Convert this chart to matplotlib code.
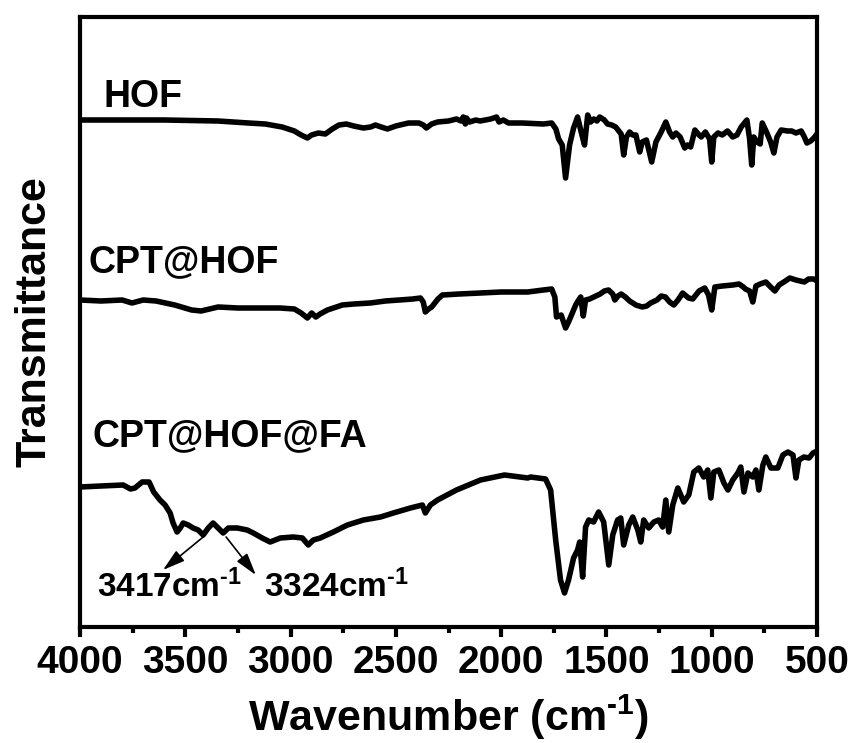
import matplotlib
matplotlib.use("Agg")
import matplotlib.pyplot as plt

plt.rcParams["mathtext.fontset"] = "custom"
plt.rcParams["mathtext.rm"] = "Liberation Sans:bold"
plt.rcParams["mathtext.bf"] = "Liberation Sans:bold"
plt.rcParams["mathtext.it"] = "Liberation Sans:bold:italic"
plt.rcParams["mathtext.default"] = "rm"

# ---- data (wavenumber cm-1, transmittance a.u.) ----
hof_wn = [4000, 3800, 3600, 3345, 3200, 3120, 3040, 2982, 2950, 2920, 2900, 2868, 2835, 2802,
          2770, 2735, 2700, 2654, 2620, 2597, 2570, 2540, 2500, 2440, 2390, 2370, 2355, 2330,
          2302, 2250, 2212, 2190, 2180, 2170, 2165, 2150, 2120, 2100, 2050, 2022, 2010, 1990,
          1965, 1900, 1800, 1760, 1740, 1727, 1710, 1694, 1675, 1656, 1637, 1620, 1604, 1589,
          1575, 1560, 1545, 1532, 1510, 1495, 1475, 1456, 1430, 1418, 1405, 1390, 1375, 1360,
          1342, 1330, 1310, 1285, 1265, 1240, 1218, 1200, 1185, 1170, 1150, 1128, 1115, 1100,
          1080, 1060, 1050, 1030, 1010, 1000, 990, 970, 950, 925, 900, 880, 860, 833, 820, 810,
          800, 785, 770, 760, 740, 720, 705, 690, 670, 640, 620, 600, 575, 560, 548, 530, 515, 500]
hof_t = [507, 507, 507, 506, 504, 503, 500, 496, 492, 489, 492, 494, 493, 498,
         502, 503, 501, 499, 500, 502, 500, 498, 501, 504, 504, 502, 499, 503,
         505, 506, 508, 506, 510, 503, 509, 505, 507, 506, 508, 510, 505, 507,
         504, 504, 503, 504, 498, 488, 482, 449, 482, 499, 510, 495, 482, 512,
         505, 508, 506, 510, 507, 503, 502, 500, 493, 472, 490, 495, 492, 492,
         475, 485, 487, 465, 485, 495, 505, 495, 490, 494, 490, 479, 482, 480,
         497, 492, 490, 495, 488, 465, 490, 494, 492, 496, 490, 492, 500, 507, 488, 462,
         490, 485, 483, 504, 495, 485, 474, 490, 497, 496, 496, 494, 496, 490, 484, 486, 489, 493]

cpt_wn = [4000, 3900, 3800, 3753, 3700, 3639, 3550, 3470, 3425, 3344, 3250, 3187, 3050, 2982,
          2950, 2920, 2900, 2880, 2860, 2825, 2754, 2700, 2621, 2550, 2483, 2420, 2383, 2370,
          2360, 2345, 2330, 2300, 2279, 2200, 2098, 2000, 1874, 1800, 1760, 1745, 1737, 1715,
          1694, 1680, 1646, 1635, 1622, 1610, 1599, 1580, 1560, 1530, 1510, 1490, 1470, 1460,
          1445, 1430, 1410, 1390, 1360, 1330, 1309, 1290, 1260, 1240, 1220, 1200, 1180, 1160,
          1138, 1110, 1090, 1060, 1033, 1015, 1000, 985, 950, 900, 870, 850, 840, 820, 805, 790,
          770, 743, 720, 700, 680, 650, 629, 600, 560, 540, 515, 500]
cpt_t = [327, 326, 327, 324, 327, 326, 322, 317, 316, 320, 319, 319, 319, 318,
         314, 309, 314, 310, 313, 317, 322, 323, 324, 326, 327, 328, 329, 325,
         315, 318, 320, 328, 332, 333, 334, 335, 335, 337, 338, 330, 310, 312,
         299, 305, 322, 326, 330, 311, 327, 328, 330, 333, 336, 337, 333, 327,
         331, 333, 330, 326, 322, 320, 321, 324, 327, 331, 330, 325, 322, 327,
         334, 329, 328, 336, 339, 332, 317, 340, 341, 342, 343, 340, 338, 336, 325, 341,
         343, 345, 340, 336, 342, 346, 349, 347, 345, 348, 348, 346]

fa_wn = [4000, 3900, 3795, 3760, 3739, 3705, 3672, 3650, 3620, 3596, 3572, 3558, 3539, 3524,
         3510, 3486, 3463, 3439, 3415, 3391, 3368, 3344, 3320, 3296, 3253, 3206, 3177, 3135,
         3097, 3049, 2987, 2944, 2916, 2892, 2859, 2797, 2730, 2654, 2573, 2512, 2431, 2374,
         2360, 2336, 2302, 2212, 2098, 1984, 1874, 1860, 1789, 1765, 1741, 1718, 1699, 1680,
         1656, 1637, 1627, 1613, 1599, 1584, 1561, 1537, 1513, 1489, 1470, 1447, 1432, 1418,
         1394, 1375, 1351, 1337, 1323, 1299, 1275, 1252, 1233, 1218, 1204, 1185, 1161, 1147,
         1133, 1109, 1085, 1061, 1038, 1019, 1004, 990, 966, 942, 923, 900, 876, 862, 847,
         828, 805, 790, 776, 757, 743, 719, 686, 662, 638, 614, 600, 586, 562, 538, 519, 500]
fa_t = [140, 141, 142, 138, 139, 145, 145, 135, 127, 122, 114, 104, 95, 99,
        104, 102, 99, 97, 92, 99, 104, 99, 94, 99, 99, 97, 94, 89,
        85, 89, 90, 89, 82, 87, 89, 95, 102, 107, 110, 114, 119, 122,
        114, 122, 127, 137, 147, 152, 149, 150, 148, 137, 87, 47, 34, 47,
        69, 77, 85, 50, 100, 107, 105, 115, 105, 62, 92, 107, 109, 82,
        102, 110, 97, 85, 107, 99, 105, 107, 100, 127, 95, 122, 139, 132,
        125, 132, 155, 159, 150, 157, 129, 155, 157, 144, 137, 147, 154, 160, 135,
        154, 150, 157, 137, 162, 170, 159, 159, 172, 175, 172, 149, 167, 170, 169, 174, 176]

labels = ["HOF", "CPT@HOF", "CPT@HOF@FA"]
xticks = [4000, 3500, 3000, 2500, 2000, 1500, 1000, 500]
minor_ticks = [3750, 3250, 2750, 2250, 1750, 1250, 750]
peak_text = [r"3417cm$^{\text{-}1}$", r"3324cm$^{\text{-}1}$"]

bold_font = "Liberation Sans"

fig = plt.figure(figsize=(8.51, 7.43), dpi=100)
ax = fig.add_axes([80/851, 1-627/743, 737/851, 610/743])

for wn, t in [(hof_wn, hof_t), (cpt_wn, cpt_t), (fa_wn, fa_t)]:
    ax.plot(wn, t, color="black", lw=4.0, solid_joinstyle="round", solid_capstyle="round")

ax.set_xlim(4000, 500)
ax.set_ylim(0, 610)
ax.set_yticks([])
ax.set_xticks(xticks)
ax.set_xticks(minor_ticks, minor=True)
ax.tick_params(axis="x", which="major", direction="out", length=7, width=3, pad=6)
ax.tick_params(axis="x", which="minor", direction="out", length=4, width=3)
for lab in ax.get_xticklabels():
    lab.set_fontfamily(bold_font)
    lab.set_fontweight("bold")
    lab.set_fontsize(28)
for s in ax.spines.values():
    s.set_linewidth(3)

ax.set_xlabel(r"Wavenumber (cm$^{\text{-}1}$)", fontsize=31, fontweight="bold",
              family=bold_font, labelpad=8)
ax.set_ylabel("Transmittance", fontsize=31, fontweight="bold", family=bold_font, labelpad=18)

# curve labels
ax.text(3890, 530, labels[0], fontsize=27, fontweight="bold", family=bold_font, va="center")
ax.text(3960, 365, labels[1], fontsize=27, fontweight="bold", family=bold_font, va="center")
ax.text(3940, 191, labels[2], fontsize=27, fontweight="bold", family=bold_font, va="center")

# peak annotations
arrow = dict(arrowstyle="-|>,head_length=0.75,head_width=0.22", color="black", lw=1.2,
             mutation_scale=18, shrinkA=0, shrinkB=0)
ax.annotate("", xy=(3606, 57), xytext=(3415, 90), arrowprops=arrow)
ax.annotate("", xy=(3165, 52), xytext=(3306, 90), arrowprops=arrow)
ax.text(3920, 40, peak_text[0], fontsize=24, fontweight="bold", family=bold_font,
        va="center", ha="left")
ax.text(3125, 40, peak_text[1], fontsize=24, fontweight="bold", family=bold_font,
        va="center", ha="left")

fig.savefig("out.png", dpi=100)
